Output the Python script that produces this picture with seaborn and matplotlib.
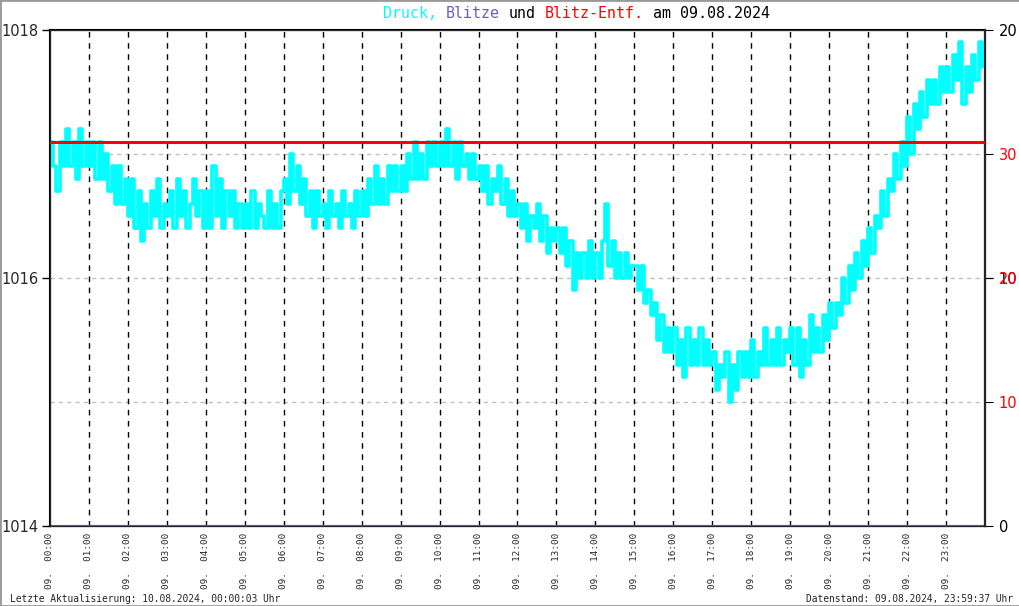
import numpy as np
import pandas as pd
import seaborn as sns
import matplotlib.pyplot as plt
from matplotlib.patches import Rectangle

# Luftdruck (hPa), ein Wert alle 5 Minuten
druck_stunden = [
    [1017.1, 1016.9, 1016.7, 1017.1, 1016.9, 1017.2, 1016.9, 1017.1, 1016.8, 1017.2, 1016.9, 1017.1],
    [1016.9, 1017.1, 1016.8, 1017.1, 1016.8, 1017.0, 1016.7, 1016.9, 1016.6, 1016.9, 1016.6, 1016.8],
    [1016.5, 1016.8, 1016.4, 1016.7, 1016.3, 1016.6, 1016.4, 1016.7, 1016.5, 1016.8, 1016.4, 1016.6],
    [1016.5, 1016.7, 1016.4, 1016.8, 1016.5, 1016.7, 1016.4, 1016.6, 1016.8, 1016.5, 1016.7, 1016.4],
    [1016.7, 1016.4, 1016.9, 1016.5, 1016.8, 1016.4, 1016.7, 1016.5, 1016.7, 1016.4, 1016.6, 1016.4],
    [1016.6, 1016.4, 1016.7, 1016.4, 1016.6, 1016.5, 1016.4, 1016.7, 1016.4, 1016.6, 1016.4, 1016.7],
    [1016.8, 1016.6, 1017.0, 1016.7, 1016.9, 1016.6, 1016.8, 1016.5, 1016.7, 1016.4, 1016.7, 1016.5],
    [1016.6, 1016.4, 1016.7, 1016.5, 1016.6, 1016.4, 1016.7, 1016.5, 1016.6, 1016.4, 1016.7, 1016.5],
    [1016.7, 1016.5, 1016.8, 1016.6, 1016.9, 1016.6, 1016.8, 1016.6, 1016.9, 1016.7, 1016.9, 1016.7],
    [1016.9, 1016.7, 1017.0, 1016.8, 1017.1, 1016.8, 1017.0, 1016.8, 1017.1, 1016.9, 1017.1, 1016.9],
    [1017.1, 1016.9, 1017.2, 1016.9, 1017.1, 1016.8, 1017.1, 1016.9, 1017.0, 1016.8, 1017.0, 1016.8],
    [1016.9, 1016.7, 1016.9, 1016.6, 1016.8, 1016.7, 1016.9, 1016.6, 1016.8, 1016.5, 1016.7, 1016.5],
    [1016.6, 1016.4, 1016.6, 1016.3, 1016.5, 1016.4, 1016.6, 1016.3, 1016.5, 1016.2, 1016.4, 1016.3],
    [1016.4, 1016.2, 1016.4, 1016.1, 1016.3, 1015.9, 1016.2, 1016.0, 1016.2, 1016.0, 1016.3, 1016.0],
    [1016.2, 1016.0, 1016.3, 1016.6, 1016.1, 1016.3, 1016.0, 1016.2, 1016.0, 1016.2, 1016.0, 1016.1],
    [1016.1, 1015.9, 1016.1, 1015.8, 1015.9, 1015.7, 1015.8, 1015.5, 1015.7, 1015.4, 1015.6, 1015.4],
    [1015.6, 1015.3, 1015.5, 1015.2, 1015.6, 1015.3, 1015.5, 1015.3, 1015.6, 1015.3, 1015.5, 1015.3],
    [1015.4, 1015.1, 1015.3, 1015.2, 1015.4, 1015.0, 1015.3, 1015.1, 1015.4, 1015.2, 1015.4, 1015.2],
    [1015.5, 1015.2, 1015.4, 1015.3, 1015.6, 1015.3, 1015.5, 1015.3, 1015.6, 1015.3, 1015.5, 1015.4],
    [1015.6, 1015.3, 1015.6, 1015.2, 1015.5, 1015.3, 1015.7, 1015.4, 1015.6, 1015.4, 1015.7, 1015.5],
    [1015.8, 1015.6, 1015.8, 1015.7, 1016.0, 1015.8, 1016.1, 1015.9, 1016.2, 1016.0, 1016.3, 1016.1],
    [1016.4, 1016.2, 1016.5, 1016.4, 1016.7, 1016.5, 1016.8, 1016.7, 1017.0, 1016.8, 1017.1, 1016.9],
    [1017.3, 1017.0, 1017.4, 1017.2, 1017.5, 1017.3, 1017.6, 1017.4, 1017.6, 1017.4, 1017.7, 1017.5],
    [1017.7, 1017.5, 1017.8, 1017.6, 1017.9, 1017.4, 1017.7, 1017.5, 1017.8, 1017.6, 1017.9, 1017.7],
]
blitze = [0, 0]            # Anzahl Blitze, ganzer Tag
blitz_entf = [31, 31]      # Blitz-Entfernung (km)
stunden = list(range(24))
x_labels = ["09.  %02d:00" % h for h in stunden]
druck_ticks = [1014, 1016, 1018]
druck_grid = [1015, 1016, 1017]
blitze_ticks = [0, 10, 20]
entf_ticks = [10, 20, 30]

druck = [v for stunde in druck_stunden for v in stunde]
minuten = np.arange(len(druck)) * 5
df = pd.DataFrame({"minute": minuten, "druck": druck})
df_tag = pd.DataFrame({"minute": [0, 1440], "blitze": blitze, "entf": blitz_entf})

sns.set_style("white")
plt.rcParams["font.family"] = ["DejaVu Sans"]

fig = plt.figure(figsize=(10.2, 6.06), dpi=100)
W, H = 1020, 606
ax = fig.add_axes([50 / W, (H - 526) / H, 935 / W, 496 / H])

sns.lineplot(data=df, x="minute", y="druck", ax=ax, color="#00ffff",
             lw=2.6, drawstyle="steps-post", zorder=3)
ax.set_xlim(0, 1440)
ax.set_ylim(1014, 1018)
ax.set_yticks(druck_ticks)
ax.set_yticks(druck_grid, minor=True)
ax.tick_params(axis="y", which="major", length=6, width=1, labelsize=10.5, pad=2, color="black")
ax.tick_params(axis="y", which="minor", length=0)
for g in druck_grid:
    ax.axhline(g, color="#c0c0c0", lw=1, ls=(0, (3, 3)), zorder=1)
for h in stunden[1:]:
    ax.axvline(h * 60, color="black", lw=1, ls=(0, (4, 4)), zorder=2)
ax.set_xticks([h * 60 for h in stunden])
ax.set_xticklabels(x_labels, rotation=90, family="DejaVu Sans Mono", fontsize=6.7, va="top")
ax.tick_params(axis="x", length=0, pad=5)
ax.set_xlabel("")
ax.set_ylabel("")
for s in ax.spines.values():
    s.set_color("black")
    s.set_linewidth(1.5)

ax2 = ax.twinx()
sns.lineplot(data=df_tag, x="minute", y="blitze", ax=ax2, color="#6a5acd", lw=2, zorder=4)
ax2.set_ylim(0, 20)
ax2.set_yticks(blitze_ticks)
ax2.tick_params(axis="y", length=6, labelsize=10.5, pad=4, colors="black")
ax2.set_ylabel("")
ax2.spines["right"].set_linewidth(1.5)

ax3 = ax.twinx()
sns.lineplot(data=df_tag, x="minute", y="entf", ax=ax3, color="red", lw=2.2, zorder=5)
ax3.set_ylim(0, 40)
ax3.set_yticks(entf_ticks)
ax3.tick_params(axis="y", length=6, labelsize=10.5, pad=4, color="black", labelcolor="red")
ax3.set_ylabel("")
ax3.set_xlim(0, 1440)
ax3.spines["right"].set_linewidth(1.5)

# Titel in Farben, Festbreitenschrift
titel = [("Druck,", "#00ffff", 0), ("Blitze", "#6a5acd", 7), ("und", "black", 14),
         ("Blitz-Entf.", "red", 18), ("am 09.08.2024", "black", 30)]
for txt, col, pos in titel:
    fig.text((383 + pos * 9) / W, 1 - 13 / H, txt, color=col, ha="left", va="center",
             family="DejaVu Sans Mono", fontsize=10.8)

fig.text(10 / W, 1 - 599 / H, "Letzte Aktualisierung: 10.08.2024, 00:00:03 Uhr",
         family="DejaVu Sans Mono", fontsize=6.9, ha="left", va="center")
fig.text(1013 / W, 1 - 599 / H, "Datenstand: 09.08.2024, 23:59:37 Uhr",
         family="DejaVu Sans Mono", fontsize=6.9, ha="right", va="center")

fig.patches.append(Rectangle((0, 0), 1, 1, transform=fig.transFigure, fill=False,
                             edgecolor="#999999", lw=2))

fig.savefig("out.png", dpi=100)
